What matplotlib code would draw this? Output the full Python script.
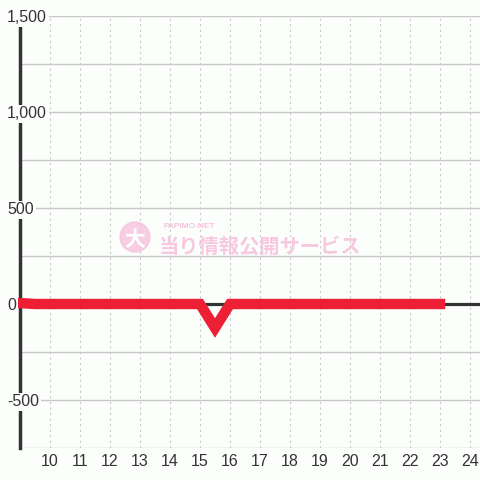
import matplotlib
matplotlib.use('Agg')
import matplotlib.pyplot as plt
import matplotlib.transforms as mtransforms
from matplotlib.patches import Circle

# 時刻(時)と差枚数
hours = [9, 9.5, 10, 11, 12, 13, 14, 15, 15.5, 16, 17, 18, 19, 20, 21, 22, 23]
values = [5, 0, 0, 0, 0, 0, 0, 0, -125, 0, 0, 0, 0, 0, 0, 0, 0]

yticks = [-500, 0, 500, 1000, 1500]
ylabels = ['-500', '0', '500', '1,000', '1,500']
xticks = list(range(10, 25))

plt.rcParams['font.family'] = ['Liberation Sans', 'DejaVu Sans']

bg = '#fcfefc'
fig = plt.figure(figsize=(4.8, 4.8), dpi=100, facecolor=bg)
ax = fig.add_axes([20/480, 32/480, 460/480, 432/480], facecolor=bg)

ax.set_xlim(9, 9 + 460/30)
ax.set_ylim(-750, 1500)

# グリッド
for y in range(-750, 1501, 250):
    ax.axhline(y, color='#c8c8c8', lw=1, zorder=1)
for x in xticks:
    ax.axvline(x, color='#c8c8c8', lw=0.8, ls=(0, (2, 3)), zorder=1)
ax.axhline(0, color='#333333', lw=2.3, zorder=2)

for s in ['top', 'right', 'bottom']:
    ax.spines[s].set_visible(False)
ax.spines['left'].set_color('#333333')
ax.spines['left'].set_linewidth(2.5)
ax.spines['left'].set_zorder(3)

ax.plot(hours, values, color='#ec1f35', lw=7.5, solid_joinstyle='miter',
        solid_capstyle='projecting', zorder=4, clip_on=False)

ax.set_xticks(xticks)
ax.set_xticklabels([str(x) for x in xticks], fontsize=11.5, color='#333333')
ax.tick_params(axis='x', length=0, pad=4)
ax.set_yticks([])

# y軸ラベル(軸線の上に重ねる)
off = mtransforms.ScaledTranslation(0, -2/100, fig.dpi_scale_trans)
for v, lab in zip(yticks, ylabels):
    ax.text(-13/460, v, lab, transform=ax.get_yaxis_transform() + off,
            ha='left', va='center', fontsize=11.5, color='#333333', zorder=5,
            clip_on=False, bbox=dict(boxstyle='square,pad=0.12', fc=bg, ec='none'))

# 透かし
wm = '#f7c3dc'
fig.patches.append(Circle((135/480, 1 - 237/480), 15/480, transform=fig.transFigure,
                          color=wm, alpha=0.8, zorder=6))
fig.text(135/480, 1 - 240/480, '大', ha='center', va='center', fontsize=15,
         color='white', weight='bold', family=['Noto Sans CJK JP', 'DejaVu Sans'], zorder=7)
fig.text(163/480, 1 - 227/480, 'PAPIMO-NET', ha='left', va='center', fontsize=6,
         color=wm, weight='bold', zorder=7)
fig.text(159/480, 1 - 246/480, '当り情報公開サービス', ha='left', va='center',
         fontsize=14.6, color=wm, weight='bold', alpha=0.9,
         family=['Noto Sans CJK JP', 'DejaVu Sans'], zorder=7)

fig.savefig('out.png', dpi=100, facecolor=bg)
